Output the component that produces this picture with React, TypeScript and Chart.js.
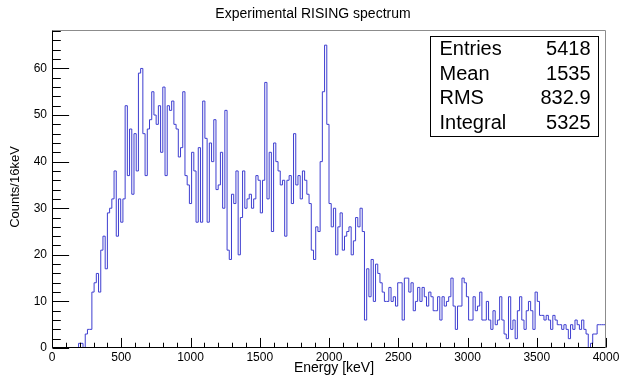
import React, { useEffect, useRef } from 'react';
import { Chart, registerables } from 'chart.js';

Chart.register(...registerables);

// ---- data (counts per 16 keV bin, 250 bins from 0 to 4000 keV) ----
const binWidth = 16;
const xMin = 0;
const xMax = 4000;
const yMax = 68.25;

const counts: number[] = [
  // 0-14
  0, 0, 0, 0, 0, 0, 0, 0, 0, 0, 0, 0, 1, 1, 0,
  // 15-24
  3, 4, 4, 12, 14, 16, 12, 21, 24, 17,
  // 25-34
  29, 30, 32, 38, 24, 32, 27, 32, 52, 37,
  // 35-44
  47, 33, 46, 38, 59, 60, 46, 37, 47, 49,
  // 45-54
  55, 50, 48, 52, 42, 56, 37, 52, 51, 53,
  // 55-64
  48, 47, 41, 43, 55, 37, 35, 31, 42, 38,
  // 65-74
  27, 43, 27, 53, 45, 27, 44, 40, 49, 34,
  // 75-84
  35, 42, 30, 51, 21, 19, 33, 31, 38, 20,
  // 85-94
  28, 38, 30, 32, 33, 30, 32, 37, 36, 29,
  // 95-104
  36, 57, 32, 42, 25, 44, 40, 38, 35, 36,
  // 105-114
  24, 36, 37, 31, 46, 35, 37, 32, 38, 36,
  // 115-124
  33, 31, 21, 19, 26, 25, 40, 55, 65, 48,
  // 125-134
  31, 26, 30, 20, 26, 29, 21, 24, 25, 26,
  // 135-144
  20, 23, 28, 26, 30, 25, 6, 17, 11, 19,
  // 145-154
  10, 18, 16, 14, 12, 10, 10, 13, 10, 11,
  // 155-164
  9, 14, 14, 6, 15, 15, 12, 14, 8, 10,
  // 165-174
  13, 10, 13, 11, 9, 12, 11, 8, 8, 11,
  // 175-184
  6, 11, 9, 10, 11, 15, 9, 4, 9, 9,
  // 185-194
  15, 14, 11, 6, 6, 11, 8, 9, 12, 6,
  // 195-204
  6, 10, 6, 4, 8, 5, 6, 11, 6, 3,
  // 205-214
  2, 11, 4, 6, 2, 8, 11, 6, 4, 8,
  // 215-224
  10, 8, 4, 12, 10, 7, 7, 6, 7, 6,
  // 225-234
  4, 7, 6, 5, 5, 4, 5, 4, 2, 5,
  // 235-244
  4, 6, 5, 4, 6, 4, 3, 0, 1, 3,
  // 245-249
  3, 5, 5, 5, 5,
];

const xTicks = [0, 500, 1000, 1500, 2000, 2500, 3000, 3500, 4000];
const xMinorStep = 100;
const yTicks = [0, 10, 20, 30, 40, 50, 60];
const yMinorStep = 2;

const titleText = 'Experimental RISING spectrum';
const xTitle = 'Energy [keV]';
const yTitle = 'Counts/16keV';
const statsLabels = ['Entries', 'Mean', 'RMS', 'Integral'];
const statsValues = ['5418', '1535', '832.9', '5325'];

const FONT = '"Liberation Sans", Arial, Helvetica, sans-serif';

const rootDecor = {
  id: 'rootDecor',
  afterDraw(chart: any) {
    const { ctx, chartArea: a, scales } = chart;
    const xs = scales.x;
    const ys = scales.y;
    ctx.save();
    const L = Math.round(a.left) + 0.5;
    const R = Math.round(a.right) - 0.5;
    const T = Math.round(a.top) + 0.5;
    const B = Math.round(a.bottom) - 0.5;

    // frame top / right
    ctx.strokeStyle = '#8c8c8c';
    ctx.lineWidth = 1;
    ctx.beginPath();
    ctx.moveTo(L, T);
    ctx.lineTo(R, T);
    ctx.lineTo(R, B);
    ctx.stroke();

    // axes
    ctx.strokeStyle = '#000';
    ctx.beginPath();
    ctx.moveTo(L, T);
    ctx.lineTo(L, B);
    ctx.lineTo(R, B);
    ctx.stroke();

    // ticks (inward, ROOT style)
    const fh = a.bottom - a.top;
    const fw = a.right - a.left;
    const xMajorLen = 0.03 * fh;
    const yMajorLen = 0.03 * fw;
    ctx.beginPath();
    for (let v = xMin; v <= xMax + 1e-6; v += xMinorStep) {
      const px = Math.round(xs.getPixelForValue(v)) + 0.5;
      const major = xTicks.includes(v);
      const len = major ? xMajorLen : xMajorLen / 2;
      ctx.moveTo(px, B);
      ctx.lineTo(px, B - len);
    }
    for (let v = 0; v <= yMax + 1e-6; v += yMinorStep) {
      const py = Math.round(ys.getPixelForValue(v)) + 0.5;
      const major = yTicks.includes(v);
      const len = major ? yMajorLen : yMajorLen / 2;
      ctx.moveTo(L, py);
      ctx.lineTo(L + len, py);
    }
    ctx.stroke();

    // title
    ctx.fillStyle = '#000';
    ctx.font = `14px ${FONT}`;
    ctx.textAlign = 'center';
    ctx.textBaseline = 'middle';
    ctx.fillText(titleText, chart.width / 2 + 2, 14);

    // axis titles
    ctx.font = `14px ${FONT}`;
    ctx.fillText(xTitle, 334, 368);
    ctx.save();
    ctx.font = `13px ${FONT}`;
    ctx.translate(15, 187);
    ctx.rotate(-Math.PI / 2);
    ctx.fillText(yTitle, 0, 0);
    ctx.restore();

    // stats box
    const bx = 430.5, by = 36.5, bw = 168, bh = 100;
    ctx.fillStyle = '#fff';
    ctx.fillRect(bx, by, bw, bh);
    ctx.strokeStyle = '#000';
    ctx.strokeRect(bx, by, bw, bh);
    ctx.fillStyle = '#000';
    ctx.font = `20px ${FONT}`;
    ctx.textBaseline = 'middle';
    statsLabels.forEach((lab, i) => {
      const yy = by + 13 + i * 24.5;
      ctx.textAlign = 'left';
      ctx.fillText(lab, bx + 9, yy);
      ctx.textAlign = 'right';
      ctx.fillText(statsValues[i], bx + bw - 8, yy);
    });
    ctx.restore();
  },
};

export default function App() {
  const ref = useRef<HTMLCanvasElement | null>(null);
  useEffect(() => {
    document.body.style.margin = '0';
    const canvas = ref.current;
    if (!canvas) return;
    const points = counts.map((c, i) => ({ x: xMin + i * binWidth, y: c }));
    points.push({ x: xMax, y: counts[counts.length - 1] });
    const chart = new Chart(canvas, {
      type: 'line',
      data: {
        datasets: [
          {
            data: points,
            borderColor: 'rgb(62, 62, 208)',
            borderWidth: 1,
            pointRadius: 0,
            stepped: 'before',
            fill: false,
            tension: 0,
          },
        ],
      },
      options: {
        responsive: false,
        animation: false,
        devicePixelRatio: 1,
        layout: { padding: { left: 0, right: 16, top: 30, bottom: 0 } },
        plugins: { legend: { display: false }, tooltip: { enabled: false }, title: { display: false } },
        scales: {
          x: {
            type: 'linear',
            min: xMin,
            max: xMax,
            grid: { display: false, drawTicks: false },
            border: { display: false },
            afterBuildTicks: (s: any) => {
              s.ticks = xTicks.map((v) => ({ value: v }));
            },
            afterFit: (s: any) => {
              s.height = 28;
            },
            ticks: {
              padding: 2,
              maxRotation: 0,
              autoSkip: false,
              color: '#000',
              font: { family: FONT, size: 12 },
              callback: (v: any) => String(v),
            },
          },
          y: {
            type: 'linear',
            min: 0,
            max: yMax,
            grid: { display: false, drawTicks: false },
            border: { display: false },
            afterBuildTicks: (s: any) => {
              s.ticks = yTicks.map((v) => ({ value: v }));
            },
            afterFit: (s: any) => {
              s.width = 52;
            },
            ticks: {
              padding: 5,
              autoSkip: false,
              color: '#000',
              font: { family: FONT, size: 12 },
              callback: (v: any) => String(v),
            },
          },
        },
      },
      plugins: [rootDecor],
    });
    return () => chart.destroy();
  }, []);
  return (
    <div style={{ width: 622, height: 376, background: '#fff' }}>
      <canvas ref={ref} width={622} height={376} style={{ display: 'block' }} />
    </div>
  );
}
